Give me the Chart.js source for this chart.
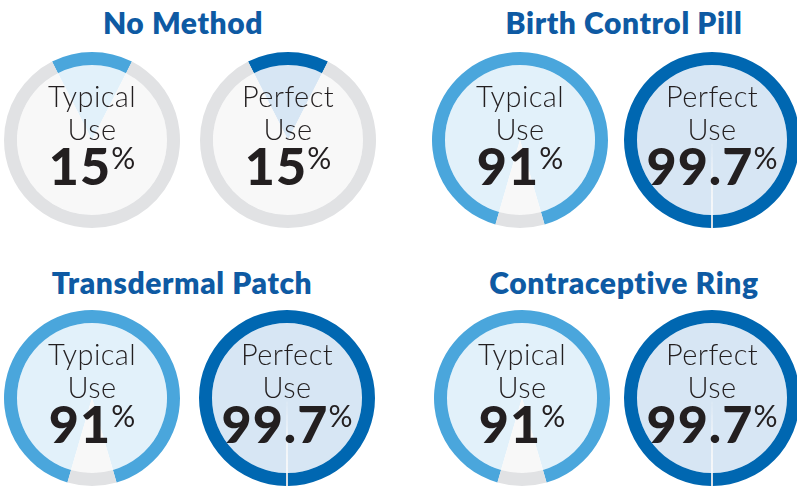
<!DOCTYPE html>
<html><head><meta charset="utf-8">
<script src="https://cdn.jsdelivr.net/npm/chart.js"></script>
<style>
html,body{margin:0;padding:0;width:797px;height:486px;overflow:hidden;background:#fff;font-family:Lato,"Open Sans",sans-serif;}
canvas{position:absolute;}
.title{position:absolute;transform:translateX(-50%);white-space:nowrap;font-weight:800;font-size:30px;line-height:1;color:#0e5aa3;letter-spacing:0.6px;}
.ln{position:absolute;transform:translateX(-50%);white-space:nowrap;line-height:1;color:#231f20;text-align:center;}
.use{font-weight:300;font-size:29px;letter-spacing:0.4px;}
.num{font-weight:900;font-size:52px;letter-spacing:1px;}
.pct{font-weight:400;font-size:30px;position:relative;top:-16px;letter-spacing:0;margin-left:0px;}
</style></head>
<body>
<script>
// ---- data ----
const methods = ["No Method", "Birth Control Pill", "Transdermal Patch", "Contraceptive Ring"];
const useTypes = ["Typical", "Perfect"];
const typicalValues = [15, 91, 91, 91];
const perfectValues = [15, 99.7, 99.7, 99.7];
const useWord = "Use";

// ---- layout / style ----
const panelCenters = [[92,140],[520,140],[92,398],[522,398]];
const pairDx = [196, 192, 195, 190];
const titlePos = [[183,7],[624,7],[182,267],[624,267]];
const R = 88;
const ringColors = ["#4aa6dc", "#0067b1"];
const innerColors = ["#e2f1fa", "#d7e6f4"];
const restRing = "#e1e2e4";
const restInner = "#f8f8f8";

function addText(cls, html, x, y){
  const d = document.createElement('div');
  d.className = 'ln ' + cls;
  d.innerHTML = html;
  d.style.left = x + 'px';
  d.style.top = y + 'px';
  document.body.appendChild(d);
}

methods.forEach((m, i) => {
  const t = document.createElement('div');
  t.className = 'title';
  t.textContent = m;
  t.style.left = titlePos[i][0] + 'px';
  t.style.top = titlePos[i][1] + 'px';
  document.body.appendChild(t);

  [typicalValues[i], perfectValues[i]].forEach((v, k) => {
    const cx = panelCenters[i][0] + k * pairDx[i];
    const cy = panelCenters[i][1];
    const cv = document.createElement('canvas');
    cv.width = 2 * R; cv.height = 2 * R;
    cv.style.left = (cx - R) + 'px';
    cv.style.top = (cy - R) + 'px';
    document.body.appendChild(cv);
    new Chart(cv, {
      type: 'doughnut',
      data: {
        labels: [useTypes[k] + ' ' + useWord, 'Other'],
        datasets: [
          {data: [v, 100 - v], backgroundColor: [ringColors[k], restRing], borderWidth: 0, weight: 13, hoverOffset: 0},
          {data: [v, 100 - v], backgroundColor: [innerColors[k], restInner], borderWidth: 0, weight: 75, hoverOffset: 0}
        ]
      },
      options: {
        responsive: false, animation: false, events: [],
        cutout: 0, rotation: -v * 1.8,
        layout: {padding: 0},
        plugins: {legend: {display: false}, tooltip: {enabled: false}}
      }
    });
    addText('use', useTypes[k], cx, cy - 33 - 25.7);
    addText('use', useWord, cx, cy - 25.7);
    addText('num', String(v) + '<span class="pct">%</span>', cx, cy + 45 - 46.1);
  });
});
</script>
</body></html>
